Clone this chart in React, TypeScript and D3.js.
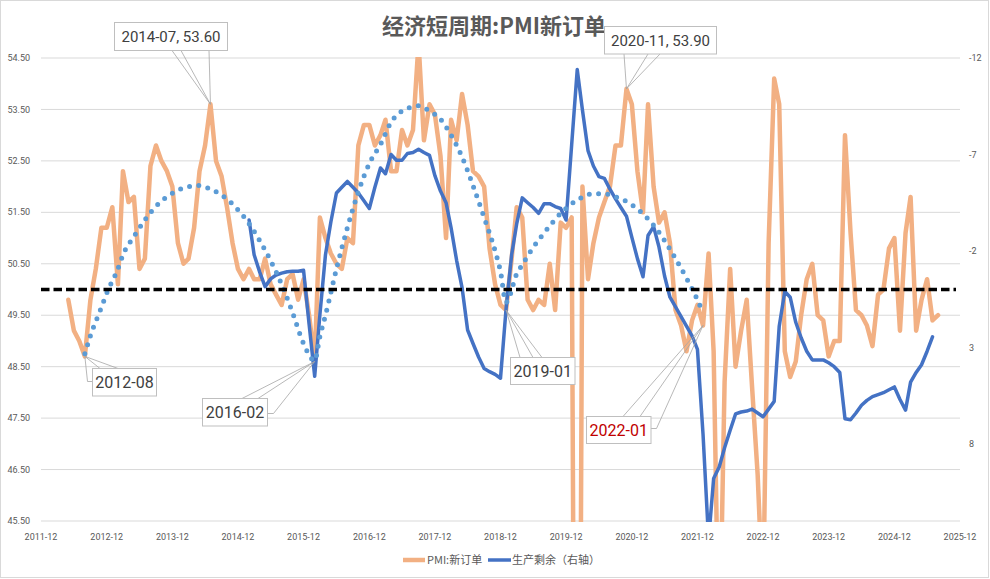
import React from 'react';
import * as d3 from 'd3';

// ---------- DATA ----------
const title = '经济短周期:PMI新订单';
const seriesNames = ['PMI:新订单', '生产剩余（右轴）'];

// PMI new orders, monthly from 2012-05
const pmiStart = '2012-05';
const pmiValues = [
  49.8, 49.2, 49.0, 48.7, 49.8, 50.4, 51.2, 51.2, // 2012
  51.6, 50.1, 52.3, 51.7, 51.8, 50.4, 50.6, 52.4, 52.8, 52.5, 52.3, 52.0, // 2013
  50.9, 50.5, 50.6, 51.2, 52.3, 52.8, 53.6, 52.5, 52.2, 51.6, 50.9, 50.4, // 2014
  50.2, 50.4, 50.2, 50.2, 50.6, 50.1, 49.9, 49.7, 50.2, 50.3, 49.8, 50.2, // 2015
  49.5, 48.6, 51.4, 51.0, 50.7, 50.5, 50.4, 51.0, 50.9, 52.8, 53.2, 53.2, // 2016
  52.8, 53.0, 53.3, 52.3, 52.3, 53.1, 52.8, 53.1, 54.8, 52.9, 53.6, 53.4, // 2017
  52.6, 51.0, 53.3, 52.9, 53.8, 53.2, 52.3, 52.2, 52.0, 50.8, 50.1, 49.7, // 2018
  49.6, 50.6, 51.6, 51.4, 49.8, 49.6, 49.8, 49.7, 50.5, 49.6, 51.3, 51.2, // 2019
  51.4, 29.3, 52.0, 50.2, 50.9, 51.4, 51.7, 52.0, 52.8, 52.8, 53.9, 53.6, // 2020
  52.3, 51.5, 53.6, 52.0, 51.3, 51.5, 50.9, 49.6, 49.3, 48.8, 49.4, 49.7, // 2021
  49.3, 50.7, 48.8, 42.6, 48.2, 50.4, 48.5, 49.2, 49.8, 48.1, 46.4, 43.9, // 2022
  50.9, 54.1, 53.6, 48.8, 48.3, 48.6, 49.5, 50.2, 50.5, 49.5, 49.4, 48.7, // 2023
  49.0, 49.0, 53.0, 51.1, 49.6, 49.5, 49.3, 48.9, 49.9, 50.0, 50.8, 51.0, // 2024
  49.2, 51.1, 51.8, 49.2, 49.8, 50.2, 49.4, 49.5, // 2025
];

// 生产剩余 (right axis, reversed), monthly from 2015-02
const surplusStart = '2015-02';
const surplusValues = [
  -3.6, -1.8, -0.9, -0.15, -0.55, -0.75, -0.85, -0.92, -0.95, -0.95, -1.0, // 2015
  1.8, 4.5, 1.3, -1.8, -3.5, -5.0, -5.3, -5.6, -5.3, -5.0, -4.6, -4.2, // 2016
  -5.3, -6.3, -6.0, -7.0, -6.7, -6.7, -7.05, -7.1, -7.27, -7.1, -6.95, -5.9, // 2017
  -5.1, -4.5, -3.2, -1.5, -0.1, 2.1, 2.8, 3.5, 4.1, 4.26, 4.4, 4.6, // 2018
  1.0, -1.8, -3.4, -4.75, -4.5, -4.25, -3.95, -4.45, -4.45, -4.3, -4.2, -3.6, // 2019
  -7.5, -11.4, -9.3, -7.2, -6.4, -5.85, -5.76, -5.2, -4.7, -4.25, -3.8, -2.7, // 2020
  -1.6, -0.66, -2.8, -3.26, -2.2, -0.7, 0.4, 0.9, 1.4, 1.9, 2.4, 3.1, // 2021
  7.5, 13.0, 9.8, 9.2, 8.2, 7.3, 6.45, 6.35, 6.3, 6.2, 6.4, 6.6, // 2022
  6.2, 5.8, 1.9, 0.1, 0.4, 1.7, 2.5, 3.2, 3.65, 3.65, 3.65, 3.8, // 2023
  4.0, 4.3, 6.7, 6.75, 6.4, 6.0, 5.75, 5.55, 5.45, 5.35, 5.2, 5.05, // 2024
  5.7, 6.25, 4.8, 4.3, 3.9, 3.2, 2.45, // 2025
];

// short-cycle sketch curve (dotted), read at selected months
const cycleDates = [
  '2012-08', '2012-09', '2012-11', '2012-12', '2013-02', '2013-03', '2013-05', '2013-07', '2013-09', '2013-12',
  '2014-03', '2014-05', '2014-07', '2014-10', '2014-12', '2015-02', '2015-04', '2015-06', '2015-08', '2015-10',
  '2015-12', '2016-02', '2016-03', '2016-04', '2016-06', '2016-08', '2016-10', '2016-12', '2017-02', '2017-04',
  '2017-07', '2017-09', '2017-11', '2018-01', '2018-03', '2018-05', '2018-07', '2018-09', '2018-11', '2018-12',
  '2019-01', '2019-03', '2019-04', '2019-06', '2019-08', '2019-11', '2020-02', '2020-05', '2020-07', '2020-09',
  '2020-11', '2021-02', '2021-04', '2021-06', '2021-08', '2021-10', '2021-12', '2022-01',
];
const cycleValues = [
  48.75, 49.1, 49.65, 49.93, 50.4, 50.67, 51.03, 51.35, 51.62, 51.87,
  52.0, 52.02, 51.95, 51.76, 51.55, 51.28, 50.95, 50.56, 50.1, 49.55,
  48.95, 48.62, 49.09, 49.5, 50.4, 51.2, 51.9, 52.45, 52.82, 53.25,
  53.52, 53.57, 53.47, 53.31, 53.0, 52.58, 52.02, 51.4, 50.75, 50.35,
  49.75, 50.3, 50.48, 50.82, 51.1, 51.48, 51.74, 51.86, 51.86, 51.8,
  51.71, 51.47, 51.25, 50.95, 50.6, 50.22, 49.8, 49.55,
];

const leftTicks = [54.5, 53.5, 52.5, 51.5, 50.5, 49.5, 48.5, 47.5, 46.5, 45.5];
const rightTicks = [-12, -7, -2, 3, 8];
const xTickLabels = [
  '2011-12', '2012-12', '2013-12', '2014-12', '2015-12', '2016-12', '2017-12',
  '2018-12', '2019-12', '2020-12', '2021-12', '2022-12', '2023-12', '2024-12', '2025-12',
];
const refLevel = 50;

// annotations: label, month of PMI point
const annotLabels = ['2014-07, 53.60', '2020-11, 53.90', '2012-08', '2016-02', '2019-01', '2022-01'];
const annotDates = ['2014-07', '2020-11', '2012-08', '2016-02', '2019-01', '2022-01'];

// ---------- LAYOUT ----------
const W = 990;
const H = 579;
const plot = { left: 41, right: 960, top: 58, bottom: 521 };
const annotLayout = [
  { x: 114.5, y: 22.5, w: 113, h: 28, size: 15, color: '#404040', feet: [172, 181, 209], side: null },
  { x: 604.5, y: 26.5, w: 112, h: 27.5, size: 15, color: '#404040', feet: [624, 648, 660], side: null },
  { x: 92.5, y: 368.5, w: 64, h: 27.5, size: 16, color: '#404040', feet: [100, 118], side: { x: 87.5, y: 381.5, bx: 92.5 } },
  { x: 202.5, y: 398.5, w: 65, h: 27.5, size: 16, color: '#404040', feet: [242, 258], side: { x: 273.5, y: 413.5, bx: 267.5 } },
  { x: 510.5, y: 357.5, w: 64.5, h: 27, size: 16, color: '#404040', feet: [520, 533, 542], side: null },
  { x: 586.5, y: 416.5, w: 64.5, h: 27, size: 16, color: '#C00000', feet: [623, 640], side: { x: 656.5, y: 428.5, bx: 651 } },
];

const parseMonth = d3.timeParse('%Y-%m');
const FONT_NUM = 'Roboto, "Noto Sans", sans-serif';
const FONT_CJK = '"Noto Sans CJK SC", "Noto Sans", sans-serif';

export default function App() {
  const x = d3
    .scaleTime()
    .domain([parseMonth('2011-12') as Date, parseMonth('2025-12') as Date])
    .range([plot.left, plot.right]);
  const yL = d3.scaleLinear().domain([45.5, 54.5]).range([plot.bottom, plot.top]);
  const yR = d3.scaleLinear().domain([-12, 12]).range([plot.top, plot.bottom]);

  const pmi0 = parseMonth(pmiStart) as Date;
  const pmiData = pmiValues.map((v, i) => ({ d: d3.timeMonth.offset(pmi0, i), v }));
  const sur0 = parseMonth(surplusStart) as Date;
  const surData = surplusValues.map((v, i) => ({ d: d3.timeMonth.offset(sur0, i), v }));
  const cycData = cycleDates.map((s, i) => ({ d: parseMonth(s) as Date, v: cycleValues[i] }));

  const lineL = d3
    .line<{ d: Date; v: number }>()
    .x((p) => x(p.d))
    .y((p) => yL(p.v));
  const lineR = d3
    .line<{ d: Date; v: number }>()
    .x((p) => x(p.d))
    .y((p) => yR(p.v));
  const lineCyc = d3
    .line<{ d: Date; v: number }>()
    .x((p) => x(p.d))
    .y((p) => yL(p.v))
    .curve(d3.curveMonotoneX);

  const orange = '#F2B083';
  const blue = '#4472C4';
  const dotBlue = '#5B9BD5';

  return (
    <svg
      width={W}
      height={H}
      style={{ position: 'absolute', left: 0, top: 0, background: '#fff' }}
    >
      <defs>
        <clipPath id="plotClip">
          <rect x={plot.left - 5} y={plot.top - 1} width={plot.right - plot.left + 10} height={plot.bottom - plot.top + 2} />
        </clipPath>
      </defs>
      <rect x={0.5} y={0.5} width={W - 2} height={H - 2} fill="#fff" stroke="#D9D9D9" strokeWidth={1} />

      {/* title */}
      <text x={494} y={34} textAnchor="middle" fontFamily={FONT_CJK} fontSize={22} fontWeight={700} fill="#595959">
        {title}
      </text>

      {/* gridlines */}
      {leftTicks.map((t) => (
        <line key={'g' + t} x1={plot.left} x2={plot.right} y1={yL(t)} y2={yL(t)} stroke="#D9D9D9" strokeWidth={1} />
      ))}

      {/* left axis labels */}
      {leftTicks.map((t) => (
        <text key={'l' + t} x={30} y={yL(t)} dy="0.35em" textAnchor="end" fontFamily={FONT_NUM} fontSize={9} fill="#595959">
          {t.toFixed(2)}
        </text>
      ))}

      {/* right axis labels */}
      {rightTicks.map((t) => (
        <text key={'r' + t} x={969} y={yR(t)} dy="0.35em" textAnchor="start" fontFamily={FONT_NUM} fontSize={9} fill="#595959">
          {t}
        </text>
      ))}

      {/* x axis labels */}
      {xTickLabels.map((s) => (
        <text key={'x' + s} x={x(parseMonth(s) as Date)} y={540} textAnchor="middle" fontFamily={FONT_NUM} fontSize={9} fill="#595959">
          {s}
        </text>
      ))}

      <g clipPath="url(#plotClip)">
        <path d={lineL(pmiData) || ''} fill="none" stroke={orange} strokeWidth={4.5} strokeLinejoin="round" strokeLinecap="round" />
        <path d={lineR(surData) || ''} fill="none" stroke={blue} strokeWidth={3.5} strokeLinejoin="round" strokeLinecap="round" />
        <path
          d={lineCyc(cycData) || ''}
          fill="none"
          stroke={dotBlue}
          strokeWidth={5}
          strokeLinecap="round"
          strokeDasharray="0 9.3"
        />
      </g>

      {/* reference 50 line */}
      <line
        x1={plot.left}
        x2={plot.right - 4}
        y1={yL(refLevel)}
        y2={yL(refLevel)}
        stroke="#000"
        strokeWidth={3.5}
        strokeDasharray="8.5 4"
      />

      {/* annotations */}
      {annotLabels.map((lab, i) => {
        const L = annotLayout[i];
        const dt = parseMonth(annotDates[i]) as Date;
        const idx = d3.timeMonth.count(pmi0, dt);
        const tx = x(dt);
        const ty = yL(pmiValues[idx]);
        const footY = L.y < ty ? L.y + L.h : L.y;
        return (
          <g key={'a' + i}>
            {L.feet.map((fx, j) => (
              <line key={j} x1={fx} y1={footY} x2={tx} y2={ty} stroke="#A6A6A6" strokeWidth={0.8} />
            ))}
            {L.side && (
              <polyline
                points={`${tx},${ty} ${L.side.x},${L.side.y} ${L.side.bx},${L.side.y}`}
                fill="none"
                stroke="#A6A6A6"
                strokeWidth={0.8}
              />
            )}
            <rect x={L.x} y={L.y} width={L.w} height={L.h} fill="#fff" stroke="#BFBFBF" strokeWidth={1} />
            <text
              x={L.x + L.w / 2}
              y={L.y + L.h / 2}
              dy="0.36em"
              textAnchor="middle"
              fontFamily={FONT_NUM}
              fontSize={L.size}
              fill={L.color}
            >
              {lab}
            </text>
          </g>
        );
      })}

      {/* legend */}
      <line x1={403} x2={425} y1={560} y2={560} stroke={orange} strokeWidth={4.5} />
      <text x={427} y={560} dy="0.35em" fontFamily={FONT_CJK} fontSize={11} fill="#595959">
        {seriesNames[0]}
      </text>
      <line x1={488} x2={511} y1={560} y2={560} stroke={blue} strokeWidth={3.5} />
      <text x={512} y={560} dy="0.35em" fontFamily={FONT_CJK} fontSize={11} fill="#595959">
        {seriesNames[1]}
      </text>
    </svg>
  );
}
